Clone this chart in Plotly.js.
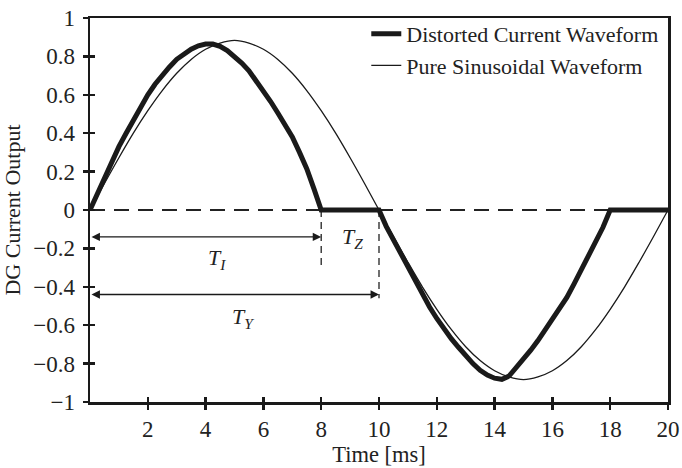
<!DOCTYPE html>
<html>
<head>
<meta charset="utf-8">
<script src="https://cdn.plot.ly/plotly-3.0.1.min.js"></script>
<style>html,body{margin:0;padding:0;background:#fff;}#chart{width:682px;height:468px;}</style>
</head>
<body>
<div id="chart"></div>
<script>
// Time samples [ms] for the distorted waveform
const timeFine = [0,0.25,0.5,0.75,1,1.25,1.5,1.75,2,2.25,2.5,2.75,3,3.25,3.5,3.75,4,4.25,4.5,4.75,5,5.25,5.5,5.75,6,6.25,6.5,6.75,7,7.25,7.5,7.75,8,8.5,9,9.5,10,10.25,10.5,10.75,11,11.25,11.5,11.75,12,12.25,12.5,12.75,13,13.25,13.5,13.75,14,14.25,14.5,14.75,15,15.25,15.5,15.75,16,16.25,16.5,16.75,17,17.25,17.5,17.75,18,18.5,19,19.5,20];
// Distorted current waveform
const distorted = [0,0.085,0.17,0.25,0.33,0.40,0.47,0.535,0.60,0.655,0.705,0.745,0.785,0.815,0.838,0.855,0.864,0.864,0.852,0.83,0.80,0.765,0.725,0.675,0.62,0.565,0.505,0.445,0.38,0.30,0.215,0.11,0,0,0,0,0,-0.085,-0.155,-0.23,-0.305,-0.375,-0.443,-0.505,-0.565,-0.62,-0.67,-0.715,-0.76,-0.80,-0.835,-0.86,-0.876,-0.882,-0.865,-0.822,-0.777,-0.73,-0.68,-0.625,-0.57,-0.515,-0.455,-0.385,-0.31,-0.24,-0.165,-0.09,0,0,0,0,0];
// Time samples [ms] for the pure sinusoid
const timeMs = [0,0.5,1,1.5,2,2.5,3,3.5,4,4.5,5,5.5,6,6.5,7,7.5,8,8.5,9,9.5,10,10.5,11,11.5,12,12.5,13,13.5,14,14.5,15,15.5,16,16.5,17,17.5,18,18.5,19,19.5,20];
// Pure sinusoidal waveform
const pureSine = [0,0.138,0.272,0.400,0.517,0.622,0.712,0.784,0.837,0.869,0.883,0.869,0.837,0.784,0.712,0.622,0.517,0.400,0.272,0.138,0,-0.138,-0.272,-0.400,-0.517,-0.622,-0.712,-0.784,-0.837,-0.869,-0.883,-0.869,-0.837,-0.784,-0.712,-0.622,-0.517,-0.400,-0.272,-0.138,0];
const seriesNames = ["Distorted Current Waveform", "Pure Sinusoidal Waveform"];
const xTickVals = [2,4,6,8,10,12,14,16,18,20];
const xTickText = ["2","4","6","8","10","12","14","16","18","20"];
const yTickVals = [1,0.8,0.6,0.4,0.2,0,-0.2,-0.4,-0.6,-0.8,-1];
const yTickText = ["1","0.8","0.6","0.4","0.2","0","\u22120.2","\u22120.4","\u22120.6","\u22120.8","\u22121"];
// interval markers [ms]
const tI = 8, tY = 10;

const FONT = "Liberation Serif, Times New Roman, serif";
const INK = "#1a1a1a";
const TXT = "#222";

const traces = [
  {x: timeFine, y: distorted, name: seriesNames[0], type: "scatter", mode: "lines",
   line: {color: INK, width: 5}},
  {x: timeMs, y: pureSine, name: seriesNames[1], type: "scatter", mode: "lines",
   line: {color: INK, width: 1.3, shape: "spline", smoothing: 1}},
  {x: [0], y: [0], xaxis: "x2", yaxis: "y2", mode: "markers", marker: {opacity: 0}, showlegend: false, hoverinfo: "skip"}
];

const axisCommon = {
  showgrid: false, zeroline: false, showline: true, linecolor: INK, linewidth: 2.5,
  mirror: true, ticks: "outside", ticklen: 5, tickwidth: 2.5, tickcolor: INK,
  tickfont: {family: FONT, size: 23, color: TXT}
};

const layout = {
  width: 682, height: 468,
  margin: {l: 90, r: 14, t: 18, b: 66},
  paper_bgcolor: "#fff", plot_bgcolor: "#fff",
  showlegend: true,
  legend: {x: 0.478, y: 1.013, xanchor: "left", yanchor: "top", bgcolor: "rgba(255,255,255,0)",
           font: {family: FONT, size: 22, color: TXT}, itemwidth: 30, tracegroupgap: 0},
  xaxis: Object.assign({}, axisCommon, {range: [0, 20], tickvals: xTickVals, ticktext: xTickText,
    title: {text: "Time [ms]", font: {family: FONT, size: 22.5, color: TXT}, standoff: 3}}),
  yaxis: Object.assign({}, axisCommon, {range: [-1, 1], tickvals: yTickVals, ticktext: yTickText,
    ticklabelstandoff: 3,
    title: {text: "DG Current Output", font: {family: FONT, size: 22, color: TXT}, standoff: 7}}),
  xaxis2: {overlaying: "x", range: [0, 20], tickvals: xTickVals, showticklabels: false, ticks: "inside",
    ticklen: 5, tickwidth: 2.5, tickcolor: INK, showgrid: false, zeroline: false, showline: false},
  yaxis2: {overlaying: "y", range: [-1, 1], tickvals: yTickVals, showticklabels: false, ticks: "inside",
    ticklen: 5, tickwidth: 2.5, tickcolor: INK, showgrid: false, zeroline: false, showline: false},
  shapes: [
    {type: "line", xref: "x", yref: "y", x0: 0, x1: 20, y0: 0, y1: 0, layer: "below",
     line: {color: "#222", width: 2, dash: "15px,9px"}},
    {type: "line", xref: "x", yref: "y", x0: tI, x1: tI, y0: 0, y1: -0.29, layer: "below",
     line: {color: "#222", width: 1.3, dash: "7px,5px"}},
    {type: "line", xref: "x", yref: "y", x0: tY, x1: tY, y0: 0, y1: -0.46, layer: "below",
     line: {color: "#222", width: 1.3, dash: "7px,5px"}}
  ],
  annotations: [
    {x: tI, y: -0.14, ax: 0, ay: -0.14, xref: "x", yref: "y", axref: "x", ayref: "y", text: "",
     showarrow: true, arrowside: "end+start", arrowhead: 2, arrowsize: 1.3, arrowwidth: 1.3, arrowcolor: INK},
    {x: tY, y: -0.44, ax: 0, ay: -0.44, xref: "x", yref: "y", axref: "x", ayref: "y", text: "",
     showarrow: true, arrowside: "end+start", arrowhead: 2, arrowsize: 1.3, arrowwidth: 1.3, arrowcolor: INK},
    {x: 4.4, y: -0.255, xref: "x", yref: "y", showarrow: false, text: "<i>T</i><sub><i>I</i></sub>",
     font: {family: FONT, size: 22, color: TXT}},
    {x: 9.07, y: -0.145, xref: "x", yref: "y", showarrow: false, text: "<i>T</i><sub><i>Z</i></sub>",
     font: {family: FONT, size: 22, color: TXT}},
    {x: 5.3, y: -0.565, xref: "x", yref: "y", showarrow: false, text: "<i>T</i><sub><i>Y</i></sub>",
     font: {family: FONT, size: 22, color: TXT}}
  ]
};

Plotly.newPlot("chart", traces, layout, {displayModeBar: false, staticPlot: true});
</script>
</body>
</html>
